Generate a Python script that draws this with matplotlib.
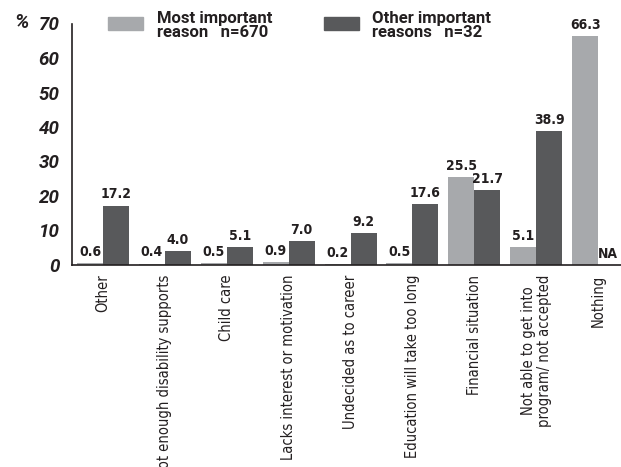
import matplotlib
matplotlib.use("Agg")
import matplotlib.pyplot as plt
import numpy as np

categories = [
    "Other",
    "Not enough disability supports",
    "Child care",
    "Lacks interest or motivation",
    "Undecided as to career",
    "Education will take too long",
    "Financial situation",
    "Not able to get into\nprogram/ not accepted",
    "Nothing",
]
most_important = [0.6, 0.4, 0.5, 0.9, 0.2, 0.5, 25.5, 5.1, 66.3]
other_important = [17.2, 4.0, 5.1, 7.0, 9.2, 17.6, 21.7, 38.9, None]
series_labels = ["Most important\nreason   n=670", "Other important\nreasons   n=32"]
yticks = [0, 10, 20, 30, 40, 50, 60, 70]

LIGHT = "#a7a9ac"
DARK = "#58595b"
TXT = "#231f20"
COND = dict(family="DejaVu Sans", stretch="condensed")
HEAD = ["Roboto", "DejaVu Sans"]

fig = plt.figure(figsize=(6.21, 4.67), dpi=100)
W, H = 621, 467
ax = fig.add_axes([72 / W, 1 - 265 / H, (W - 72) / W, (265 - 23.5) / H])

x = np.arange(len(categories))
bw = 0.42
ax.bar(x - bw / 2, most_important, width=bw, color=LIGHT, zorder=2)
dark_vals = [v if v is not None else 0 for v in other_important]
ax.bar(x + bw / 2, dark_vals, width=bw, color=DARK, zorder=2)

for xi, v in zip(x, most_important):
    ax.annotate(f"{v:.1f}", (xi - bw / 2, v), xytext=(0, 3), textcoords="offset points",
                ha="center", va="bottom", fontsize=10, fontweight="bold",
                color=TXT, **COND)
for xi, v in zip(x, other_important):
    ax.annotate("NA" if v is None else f"{v:.1f}", (xi + bw / 2, 0 if v is None else v),
                xytext=(-2 if v is None else 0, 3), textcoords="offset points",
                ha="center", va="bottom", fontsize=10, fontweight="bold",
                color=TXT, **COND)

ax.set_xlim(-0.5, 8.37)
ax.set_ylim(0, 70)
ax.set_yticks(yticks)
ax.set_yticklabels([str(t) for t in yticks], fontsize=13.5, fontweight="bold",
                   fontstyle="italic", family=HEAD, color=TXT)
ax.set_xticks(x)
ax.set_xticklabels(categories, rotation=90, fontsize=10.5, va="top", ha="center",
                   linespacing=1.05, color=TXT, **COND)
ax.tick_params(axis="both", length=0)
ax.tick_params(axis="y", pad=9)
ax.tick_params(axis="x", pad=7)
for s in ("top", "right"):
    ax.spines[s].set_visible(False)
for s in ("left", "bottom"):
    ax.spines[s].set_linewidth(1.2)
    ax.spines[s].set_color(TXT)

fig.text(14 / W, 1 - 23 / H, "%", fontsize=14.5, fontweight="bold", fontstyle="italic",
         family=HEAD, va="center", ha="left", color=TXT)

# legend drawn as swatches with bold captions
for (sx, tx, color, label) in [(108, 157, LIGHT, series_labels[0]),
                               (324, 372, DARK, series_labels[1])]:
    fig.patches.append(plt.Rectangle((sx / W, 1 - 30 / H), 35 / W, 13 / H,
                                     transform=fig.transFigure, color=color))
    fig.text(tx / W, 1 - 11 / H, label, fontsize=12, fontweight="bold", va="top",
             ha="left", linespacing=0.95, family=HEAD, color=TXT)

fig.savefig("out.png", dpi=100)
